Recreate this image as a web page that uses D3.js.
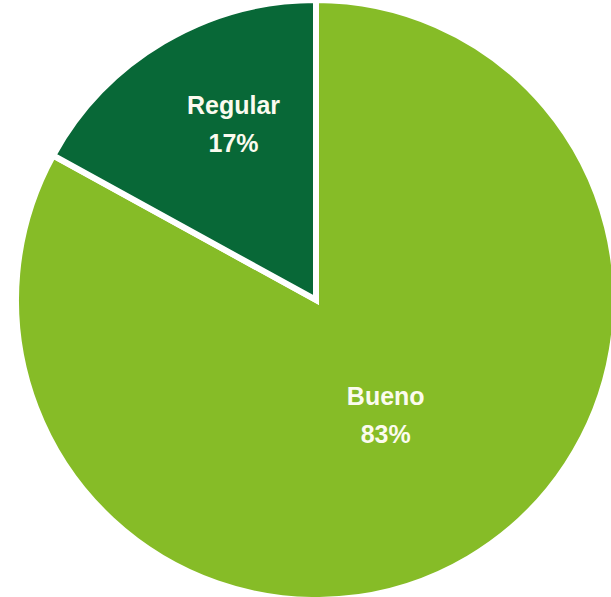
<!DOCTYPE html>
<html><head><meta charset="utf-8">
<script src="https://cdn.jsdelivr.net/npm/d3@7"></script>
<style>html,body{margin:0;padding:0;background:#fff;overflow:hidden}</style>
</head><body>
<svg id="chart" width="611" height="597"></svg>
<script>
const categories = ["Bueno", "Regular"];
const values = [83, 17];
const labels = ["83%", "17%"];
const colors = ["#86bc27", "#086837"];

const cx = 316, cy = 300, radius = 300;
const labelRadius = [137, 192];
const labelAngleShift = [0, 0.09];

const svg = d3.select("#chart");
const g = svg.append("g").attr("transform", `translate(${cx},${cy})`);

const pie = d3.pie().sort(null).value(d => d)(values);
const arc = d3.arc().innerRadius(0).outerRadius(radius);

g.selectAll("path.slice").data(pie).join("path")
  .attr("class", "slice")
  .attr("d", arc)
  .attr("fill", (d, i) => colors[i])
  .attr("stroke", "#fff")
  .attr("stroke-width", 6)
  .attr("stroke-linejoin", "miter");

pie.forEach((d, i) => {
  const a = (d.startAngle + d.endAngle) / 2 + labelAngleShift[i];
  const x = labelRadius[i] * Math.sin(a);
  const y = -labelRadius[i] * Math.cos(a);
  const t = g.append("text")
    .attr("x", x).attr("y", y)
    .attr("text-anchor", "middle")
    .attr("fill", "#fbfbef")
    .attr("font-family", "'Liberation Sans', Arial, sans-serif")
    .attr("font-weight", "bold")
    .attr("font-size", 25);
  t.append("tspan").attr("x", x).attr("dy", -12.5).text(categories[i]);
  t.append("tspan").attr("x", x).attr("dy", 38).text(labels[i]);
});
</script>
</body></html>
